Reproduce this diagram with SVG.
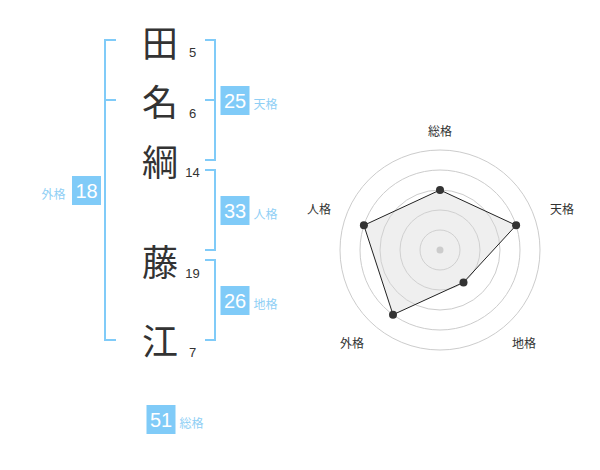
<svg xmlns="http://www.w3.org/2000/svg" width="600" height="470" viewBox="0 0 600 470">
<style>
.k{font-family:"Noto Sans CJK JP","Noto Sans CJK SC",sans-serif;font-size:36px;fill:#333;text-anchor:middle;dominant-baseline:central}
.n{font-family:"Liberation Sans",Arial,sans-serif;font-size:13px;fill:#333;text-anchor:middle}
.box{fill:#80cbf8}
.bn{font-family:"Liberation Sans",Arial,sans-serif;font-size:20px;fill:#fff;text-anchor:middle;dominant-baseline:central}
.lb{font-family:"Noto Sans CJK JP","Noto Sans CJK SC",sans-serif;font-size:12px;fill:#8fcff5;dominant-baseline:central}
.br{fill:none;stroke:#80cbf8;stroke-width:2}
.ring{fill:none;stroke:#ccc;stroke-width:1}
.rl{font-family:"Noto Sans CJK JP","Noto Sans CJK SC",sans-serif;font-size:12px;fill:#333;text-anchor:middle;dominant-baseline:central}
.dot{fill:#333}
</style>
<g id="connectors">
<path class="br" d="M116,40 H105 V340 H116 M105,100 H116"/>
<path class="br" d="M205,40 H215 V160 H205 M215,100 H205"/>
<path class="br" d="M205,170 H215 V250 H205"/>
<path class="br" d="M205,260 H215 V340 H205"/>
</g>
<g id="char1"><text class="k" x="160" y="41">田</text><text class="n" x="192.5" y="57.3">5</text></g>
<g id="char2"><text class="k" x="160" y="100">名</text><text class="n" x="192.5" y="117.5">6</text></g>
<g id="char3"><text class="k" x="160" y="160">綱</text><text class="n" x="192.5" y="176.7">14</text></g>
<g id="char4"><text class="k" x="160" y="260">藤</text><text class="n" x="192.5" y="277.7">19</text></g>
<g id="char5"><text class="k" x="160" y="339">江</text><text class="n" x="192.5" y="356.7">7</text></g>
<g id="tenkaku"><rect class="box" x="220.5" y="86" width="29" height="29"/><text class="bn" x="235" y="100.5">25</text><text class="lb" x="253.5" y="103.5">天格</text></g>
<g id="jinkaku"><rect class="box" x="220.5" y="196" width="29" height="29"/><text class="bn" x="235" y="210.5">33</text><text class="lb" x="253.5" y="213.5">人格</text></g>
<g id="chikaku"><rect class="box" x="220.5" y="286" width="29" height="29"/><text class="bn" x="235" y="300.5">26</text><text class="lb" x="253.5" y="303.5">地格</text></g>
<g id="gaikaku"><rect class="box" x="72" y="176" width="29" height="29"/><text class="bn" x="86.5" y="190.5">18</text><text class="lb" x="41.5" y="193.5">外格</text></g>
<g id="soukaku"><rect class="box" x="146.5" y="405" width="29" height="29"/><text class="bn" x="161" y="419.5">51</text><text class="lb" x="179.5" y="422.5">総格</text></g>
<g id="radar">
<circle class="ring" cx="440" cy="250" r="20"/>
<circle class="ring" cx="440" cy="250" r="40"/>
<circle class="ring" cx="440" cy="250" r="60"/>
<circle class="ring" cx="440" cy="250" r="80"/>
<circle class="ring" cx="440" cy="250" r="100"/>
<polygon points="440,190 516.1,225.3 463.5,282.4 393,314.7 363.9,225.3" fill="#d8d8d8" fill-opacity="0.4" stroke="#222" stroke-width="1"/>
<circle cx="440" cy="250" r="3.5" fill="#ccc"/>
<circle class="dot" cx="440" cy="190" r="4"/>
<circle class="dot" cx="516.1" cy="225.3" r="4"/>
<circle class="dot" cx="463.5" cy="282.4" r="4"/>
<circle class="dot" cx="393" cy="314.7" r="4"/>
<circle class="dot" cx="363.9" cy="225.3" r="4"/>
<text class="rl" x="440" y="130">総格</text>
<text class="rl" x="562" y="208">天格</text>
<text class="rl" x="524" y="342">地格</text>
<text class="rl" x="352" y="342">外格</text>
<text class="rl" x="319" y="208">人格</text>
</g>
</svg>
